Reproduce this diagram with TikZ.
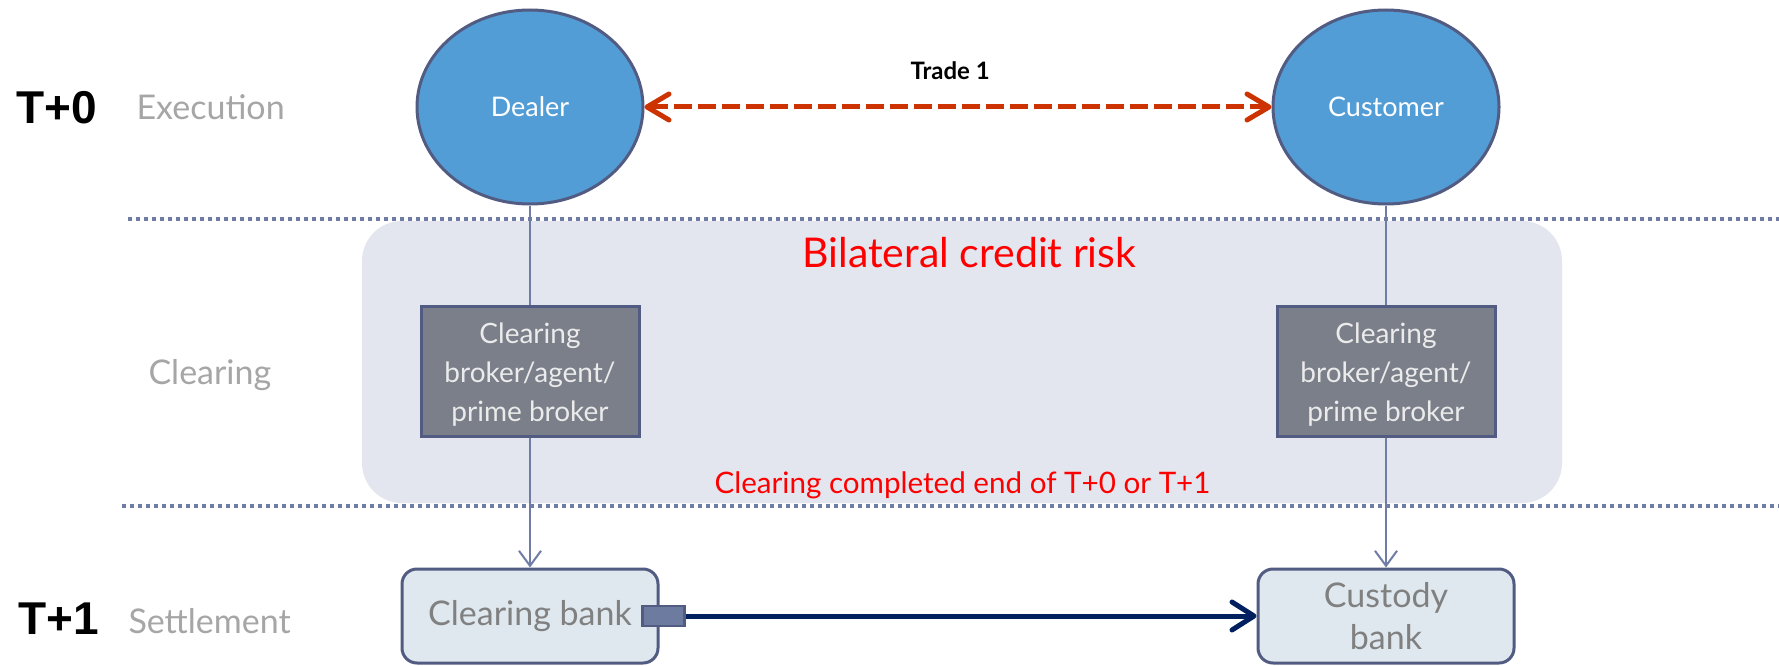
\documentclass[tikz,border=0pt]{standalone}
\usepackage{fontspec}
\setmainfont{Lato}
\newfontfamily\arialfont{Liberation Sans}
\usetikzlibrary{arrows.meta,shapes.geometric}
\definecolor{regionfill}{HTML}{E3E6EE}
\definecolor{dotcol}{HTML}{6F7CA6}
\definecolor{ellfill}{HTML}{539DD6}
\definecolor{edgecol}{HTML}{525C82}
\definecolor{brokerfill}{HTML}{7B7F8A}
\definecolor{bankfill}{HTML}{DFE8EE}
\definecolor{tradered}{HTML}{CC3300}
\definecolor{navy}{HTML}{002060}
\definecolor{labelgray}{HTML}{A6A6A6}
\definecolor{banktext}{HTML}{808080}
\definecolor{portfill}{HTML}{6E7BA0}
\tikzset{
  sep/.style={dotcol, line width=4pt, dash pattern=on 4pt off 4pt},
  party/.style={ellipse, draw=edgecol, line width=3pt, fill=ellfill, minimum width=226pt, minimum height=194pt, inner sep=0pt, text=white, font=\fontsize{27}{32}\selectfont},
  broker/.style={rectangle, draw=edgecol, line width=3pt, fill=brokerfill, minimum width=218pt, minimum height=130pt, inner sep=0pt},
  brokertext/.style={align=center, inner sep=0pt, text=white!92!black, font=\fontsize{28}{39}\selectfont, yshift=-4pt},
  bank/.style={rectangle, rounded corners=15pt, draw=edgecol, line width=3pt, fill=bankfill, minimum width=256pt, minimum height=94pt, inner sep=0pt, align=center, text=banktext, font=\fontsize{34}{42}\selectfont},
  port/.style={rectangle, draw=edgecol, line width=2.5pt, fill=portfill, minimum width=42pt, minimum height=20pt, inner sep=0pt},
  vline/.style={dotcol, line width=2pt},
  phase/.style={anchor=base west, text=labelgray, font=\fontsize{34}{40}\selectfont},
  day/.style={anchor=base west, text=black, font=\arialfont\bfseries\fontsize{46}{50}\selectfont},
  redtext/.style={anchor=base west, text=red},
}
\begin{document}
\begin{tikzpicture}[x=1pt,y=-1pt]
\useasboundingbox (0,0) rectangle (1779,666);
\fill[white] (0,0) rectangle (1779,666);
% shaded clearing region
\fill[regionfill, rounded corners=40pt] (362,221) rectangle (1562,503);
% separators
\draw[sep] (128,219) -- (1779,219);
\draw[sep] (122,506) -- (1779,506);
% left labels
\node[day] (t0) at (13,124) {T+0};
\node[phase] (exec) at (133,120) {Execution};
\node[phase] (clr) at (145,384) {Clearing};
\node[day] (t1) at (15,634) {T+1};
\node[phase] (settle) at (125,633) {Settlement};
% parties
\node[party] (dealer) at (530,107) {Dealer};
\node[party] (customer) at (1386,107) {Customer};
% trade
\node[anchor=base west, font=\bfseries\fontsize{24}{28}\selectfont] (trade) at (907,80) {Trade 1};
\draw[tradered, line width=5pt, dash pattern=on 18pt off 6pt,
  {Straight Barb[length=22pt,width=26pt,line cap=round,line join=round]}-{Straight Barb[length=22pt,width=26pt,line cap=round,line join=round]}]
  (dealer.east) -- (customer.west);
% red texts
\node[redtext, font=\fontsize{41}{48}\selectfont] (bilat) at (799,267) {Bilateral credit risk};
\node[redtext, font=\fontsize{29.6}{34}\selectfont] (done) at (711,493) {Clearing completed end of T+0 or T+1};
% brokers
\node[broker, label={[brokertext]center:{Clearing\\broker/agent/\\prime broker}}] (cbl) at (530,371) {};
\node[broker, label={[brokertext]center:{Clearing\\broker/agent/\\prime broker}}] (cbr) at (1386,371) {};
% banks
\node[bank] (cbank) at (530,616) {Clearing bank};
\node[bank] (custody) at (1386,616) {Custody\\bank};
\node[port] (port) at ([xshift=4pt]cbank.east) {};
% connectors
\draw[vline] (dealer.south) -- (cbl.north);
\draw[vline] (customer.south) -- (cbr.north);
\draw[vline, -{Straight Barb[length=15pt,width=22pt]}] (cbl.south) -- (cbank.north);
\draw[vline, -{Straight Barb[length=15pt,width=22pt]}] (cbr.south) -- (custody.north);
\draw[navy, line width=5pt, -{Straight Barb[length=22pt,width=28pt,line cap=round,line join=round]}] (port.east) -- (custody.west);
\end{tikzpicture}
\end{document}
